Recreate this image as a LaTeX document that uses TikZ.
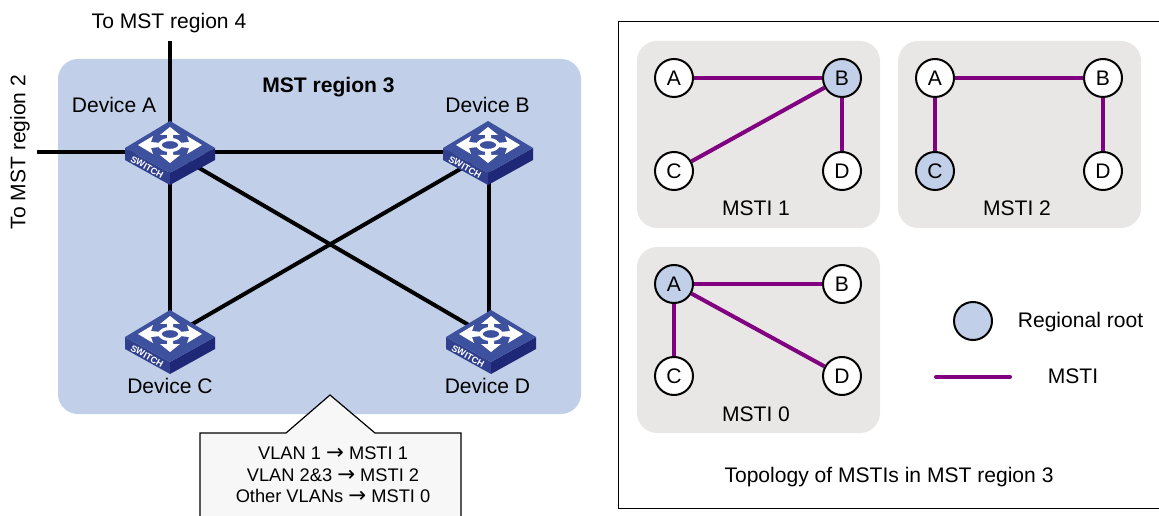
\documentclass[tikz,border=0pt]{standalone}
\usepackage{fontspec}
\setmainfont{Liberation Sans}
\newfontfamily\arrowfont{DejaVu Sans}
\newcommand{\lblfont}{\fontsize{15.8pt}{18pt}\selectfont}
\newcommand{\smfont}{\fontsize{13.7pt}{16.2pt}\selectfont}
\newcommand{\rarr}{{\arrowfont\fontsize{16pt}{16.2pt}\selectfont →}}
\definecolor{regionblue}{RGB}{193,208,232}
\definecolor{rootblue}{RGB}{193,208,232}
\definecolor{panelgrey}{RGB}{233,231,230}
\definecolor{boxgrey}{RGB}{247,247,247}
\definecolor{swtop}{RGB}{62,81,158}
\definecolor{swfront}{RGB}{48,64,142}
\definecolor{swside}{RGB}{30,40,118}
\definecolor{mstipurple}{RGB}{128,0,128}
\tikzset{
  x=0.75pt,y=-0.75pt,
  link/.style={line width=3pt,black},
  msti/.style={line width=3pt,draw=mstipurple},
  rtr/.style={circle,draw=black,line width=1.5pt,fill=white,minimum size=28.5pt,inner sep=0pt,font=\lblfont},
  root/.style={rtr,fill=rootblue},
  panel/.style={fill=panelgrey,rounded corners=15pt},
  lbl/.style={font=\lblfont,inner sep=0pt},
  pics/switchbox/.style={code={
    \fill[swfront] (-45,-2)--(0,23)--(0,35)--(-45,10)--cycle;
    \fill[swside] (45,-2)--(0,23)--(0,35)--(45,10)--cycle;
    \fill[swtop] (0,-29)--(45,-2)--(0,23)--(-45,-2)--cycle;
    \begin{scope}[shift={(0,-5)}]
      \foreach \s in {1,-1}{
        \fill[white] (\s*9,-2)--(\s*19,-3)--(\s*17,-9)--(\s*32,0)--(\s*17,9)--(\s*19,3)--(\s*9,2)--cycle;
        \fill[white] (-3,\s*6)--(-3,\s*10)--(-10,\s*10)--(0,\s*18)--(10,\s*10)--(3,\s*10)--(3,\s*6)--cycle;
      }
      \draw[white,fill=swtop,line width=2.4pt] (0,0) ellipse (10 and 5.5);
    \end{scope}
    \node[white,font=\bfseries\fontsize{6.8pt}{7pt}\selectfont,inner sep=0pt,rotate=-29] at (-23,17) {SWITCH};
  }},
}
\begin{document}
\begin{tikzpicture}
\useasboundingbox (0,0) rectangle (1159,516);
\fill[regionblue,rounded corners=15pt] (58,59) rectangle (581,414);
% callout
\draw[line width=0.9pt,fill=boxgrey] (200,530)--(200,433)--(286,433)--(330,395)--(375,433)--(461,433)--(461,530);
\coordinate (devA) at (170,151);
\coordinate (devB) at (488,153);
\coordinate (devC) at (170,337);
\coordinate (devD) at (491,338);
\coordinate (toFour) at (170,41);
\coordinate (toTwo) at (37,152.5);
\coordinate (bDown) at (489,153);
\coordinate (dUp) at (489,338);
\draw[link] (toFour)--(devA);
\draw[link] (toTwo)--(devB|-toTwo);
\draw[link] (devA)--(devC);
\draw[link] (bDown)--(dUp);
\draw[link] (devA)--(devD);
\draw[link] (devB)--(devC);
\pic at (170,150) {switchbox};
\pic at (488,150) {switchbox};
\pic at (170,339) {switchbox};
\pic at (491,339) {switchbox};
\node[lbl] (ta) at (114,105) {Device A};
\node[lbl] (tb) at (487.5,105) {Device B};
\node[lbl] (tc) at (170,386) {Device C};
\node[lbl] (td) at (487.5,386) {Device D};
\node[lbl,font=\lblfont\bfseries] (reg) at (328.5,87) {MST region 3};
\node[lbl] (t4) at (169,23) {To MST region 4};
\node[lbl,rotate=90] (t2) at (20,152) {To MST region 2};
\node[font=\smfont,align=center,inner sep=0pt] (map) at (333,475) {VLAN 1 \rarr{} MSTI 1\\VLAN 2\&3 \rarr{} MSTI 2\\Other VLANs \rarr{} MSTI 0};
% frame
\draw[line width=0.7pt] (618,21) rectangle (1170,508);
\fill[panel] (637,41) rectangle (880,228);
\fill[panel] (898,41) rectangle (1141,228);
\fill[panel] (637,247) rectangle (880,433);
% MSTI 1
\node[rtr] (a1) at (674,78) {A};
\node[root] (b1) at (842,78) {B};
\node[rtr] (c1) at (674,171) {C};
\node[rtr] (d1) at (842,171) {D};
\draw[msti] (a1)--(b1);
\draw[msti] (c1)--(b1);
\draw[msti] (b1)--(d1);
\node[lbl] (m1) at (756,208) {MSTI 1};
% MSTI 2
\node[rtr] (a2) at (935,78) {A};
\node[rtr] (b2) at (1103,78) {B};
\node[root] (c2) at (935,171) {C};
\node[rtr] (d2) at (1103,171) {D};
\draw[msti] (a2)--(b2);
\draw[msti] (a2)--(c2);
\draw[msti] (b2)--(d2);
\node[lbl] (m2) at (1017,208) {MSTI 2};
% MSTI 0
\node[root] (a0) at (674,284) {A};
\node[rtr] (b0) at (842,284) {B};
\node[rtr] (c0) at (674,376) {C};
\node[rtr] (d0) at (842,376) {D};
\draw[msti] (a0)--(b0);
\draw[msti] (a0)--(c0);
\draw[msti] (a0)--(d0);
\node[lbl] (m0) at (756,414) {MSTI 0};
% legend
\node[root] (lr) at (973,321) {};
\node[lbl] (lrt) at (1080.5,322) {Regional root};
\coordinate (la) at (936,377);
\coordinate (lb) at (1010,377);
\draw[msti,line cap=round] (la)--(lb);
\node[lbl] (lmt) at (1073,376) {MSTI};
\node[lbl] (cap) at (889,477) {Topology of MSTIs in MST region 3};
\end{tikzpicture}
\end{document}
